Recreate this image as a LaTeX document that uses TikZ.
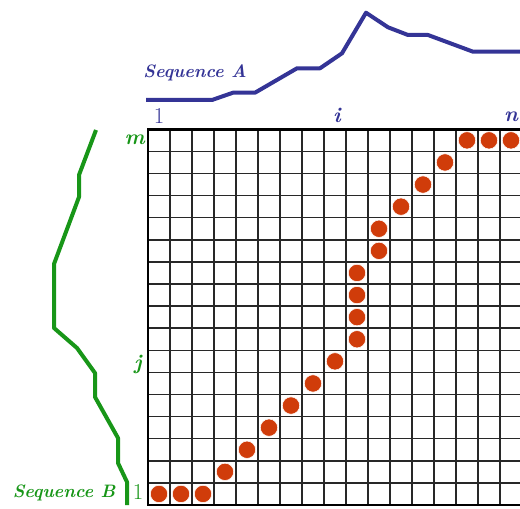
\documentclass[tikz,border=0pt]{standalone}
\definecolor{seqblue}{RGB}{52,52,150}
\definecolor{seqgreen}{RGB}{24,150,24}
\definecolor{dotred}{RGB}{208,60,10}
\definecolor{gridgray}{RGB}{40,40,40}
\tikzset{
  gridline/.style={draw=gridgray,line width=1.1pt},
  border/.style={draw=black,line width=2.2pt},
  matchdot/.style={circle,fill=dotred,draw=white,line width=0.4pt,minimum size=13pt,inner sep=0pt},
  seqA/.style={draw=seqblue,line width=3pt,line join=round},
  seqB/.style={draw=seqgreen,line width=3pt,line join=round},
  bluelbl/.style={text=seqblue,font=\fontsize{17}{19}\selectfont,inner sep=0pt},
  greenlbl/.style={text=seqgreen,font=\fontsize{17}{19}\selectfont,inner sep=0pt},
  letterfont/.style={font=\fontsize{16}{18}\selectfont\bfseries\itshape},
  seqfont/.style={font=\fontsize{13.5}{15}\selectfont\bfseries\itshape},
}
\begin{document}
\begin{tikzpicture}[x=0.75pt,y=-0.75pt]
\useasboundingbox (0,0) rectangle (520,509);
\begin{scope}
\clip (0,0) rectangle (520,509);
% grid
\foreach \k in {1,...,16} \draw[gridline] ({148+22*\k},129.3) -- ({148+22*\k},505);
\foreach \r in {1,...,16} \draw[gridline] (148,{505-22.1*\r}) -- (530,{505-22.1*\r});
\draw[border] (530,129.3) -- (148,129.3) -- (148,505) -- (530,505);
% matched cells
\foreach \c/\r [count=\n] in {1/1,2/1,3/1,4/2,5/3,6/4,7/5,8/6,9/7,10/8,10/9,10/10,10/11,11/12,11/13,12/14,13/15,14/16,15/17,16/17,17/17}
  \node[matchdot] (d\n) at ({148+22*(\c-0.5)},{505-22.1*(\r-0.5)}) {};
% sequence A profile
\draw[seqA] (146,100) -- (212,100) -- (233,92.7) -- (255,92.7) -- (297,68.3) -- (320,68.3) -- (342,53.3) -- (366,12.7) -- (388,27.3) -- (408,35) -- (428,35) -- (473,51.7) -- (525,51.7);
\end{scope}
% labels top
\node[bluelbl] (a1) at (159,116) {1};
\node[bluelbl,letterfont] (ai) at (337,115) {i};
\node[bluelbl,letterfont] (an) at (511,117) {n};
\node[bluelbl,seqfont] (seqAlbl) at (195,73) {Sequence A};
% sequence B profile
\draw[seqB] (96,130) -- (79,175) -- (79,197) -- (54,264) -- (54,328) -- (77,348) -- (95,373) -- (95,397) -- (118,438) -- (118,463) -- (127,482) -- (127,505);
\node[greenlbl,letterfont,anchor=east] (bm) at (145,140) {m};
\node[greenlbl,letterfont] (bj) at (138,364) {j};
\node[greenlbl] (b1) at (138,492) {1};
\node[greenlbl,seqfont] (seqBlbl) at (64,493) {Sequence B};
\end{tikzpicture}
\end{document}
